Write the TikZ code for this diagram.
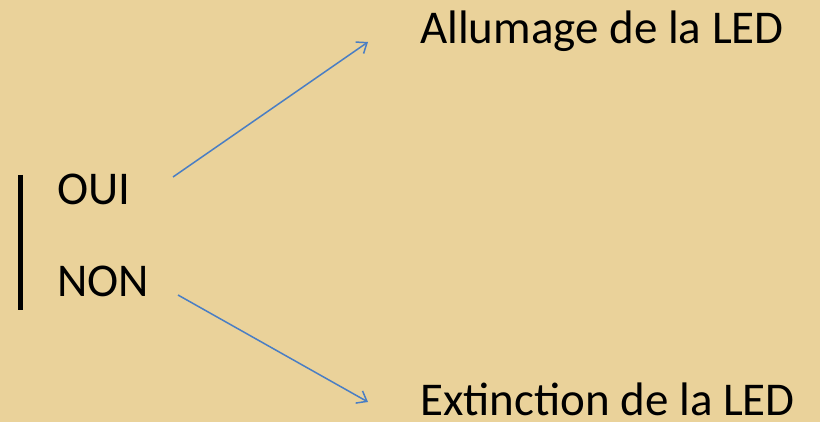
\documentclass[tikz,border=0pt]{standalone}
\usepackage{fontspec}
\setmainfont{Carlito}
\definecolor{papyrus}{HTML}{EAD29A}
\definecolor{arrowblue}{HTML}{4A7EC4}
\begin{document}
\begin{tikzpicture}[x=1pt,y=-1pt,
  lbl/.style={anchor=base west,inner sep=0pt,font=\fontsize{47}{56}\selectfont,text=black},
  conn/.style={draw=arrowblue,line width=1.5pt,-{Straight Barb[length=9pt,width=14pt,line width=1.5pt]}}]
\usetikzlibrary{arrows.meta}
\fill[papyrus] (0,0) rectangle (820,422);
\useasboundingbox (0,0) rectangle (820,422);
\node[lbl] (oui) at (57,205) {OUI};
\node[lbl] (non) at (57,297) {NON};
\node[lbl] (on) at (420,44) {Allumage de la LED};
\node[lbl] (off) at (420,415) {Extinction de la LED};
\coordinate (bt) at (20,175);
\coordinate (bb) at (20,310);
\draw[line width=5pt] (bt) -- (bb);
\coordinate (a1) at (173,177);
\coordinate (a2) at (368,42);
\coordinate (b1) at (178,295);
\coordinate (b2) at (368,402);
\draw[conn] (a1) -- (a2);
\draw[conn] (b1) -- (b2);
\end{tikzpicture}
\end{document}
